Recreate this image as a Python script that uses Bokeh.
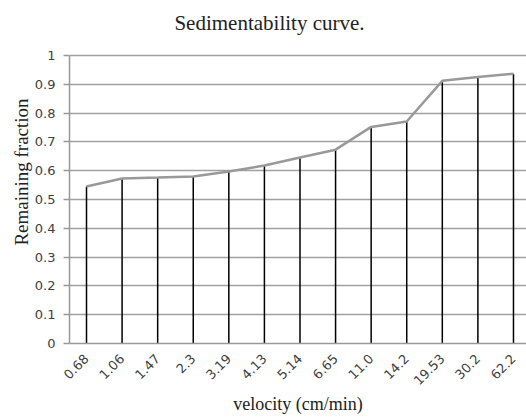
from bokeh.plotting import figure
from bokeh.models import Range1d, FixedTicker, Label
from bokeh.embed import file_html
from bokeh.resources import INLINE

# Data
title_text = "Sedimentability curve."
velocities = ["0.68", "1.06", "1.47", "2.3", "3.19", "4.13", "5.14", "6.65",
              "11.0", "14.2", "19.53", "30.2", "62.2"]
remaining = [0.545, 0.573, 0.576, 0.580, 0.597, 0.618, 0.646, 0.673,
             0.752, 0.771, 0.912, 0.925, 0.937]
y_ticks = [0, 0.1, 0.2, 0.3, 0.4, 0.5, 0.6, 0.7, 0.8, 0.9, 1]
y_tick_labels = ["0", "0.1", "0.2", "0.3", "0.4", "0.5", "0.6", "0.7", "0.8", "0.9", "1"]

xs = list(range(len(velocities)))

# plot area runs to the top of the canvas; the value 1 sits 55px below it,
# leaving room for the title inside the frame
p = figure(width=526, height=418, output_backend="svg", toolbar_location=None,
           x_range=Range1d(-0.478, 12.366), y_range=Range1d(0, 1.19097),
           min_border_left=69, min_border_right=0, min_border_top=0,
           min_border_bottom=75)
p.outline_line_color = None
p.background_fill_color = "white"
p.border_fill_color = "white"

p.add_layout(Label(x=200, y=321, x_units="screen", y_units="screen",
                   text=title_text, text_font="Liberation Serif",
                   text_font_size="21px", text_color="#222222",
                   text_align="center", text_baseline="middle"))

# drop lines
p.segment(x0=xs, y0=[0] * len(xs), x1=xs, y1=remaining, line_color="black", line_width=1.5)
# curve
p.line(xs, remaining, line_color="#999999", line_width=2.5)

# x axis
xa = p.xaxis[0]
xa.ticker = FixedTicker(ticks=xs)
xa.major_label_overrides = {i: v for i, v in zip(xs, velocities)}
xa.major_label_orientation = 0.785398
xa.major_tick_out = 0
xa.major_tick_in = 0
xa.minor_tick_out = 0
xa.minor_tick_in = 0
xa.axis_line_color = "#999999"
xa.axis_line_width = 1.5
xa.major_label_text_font = "DejaVu Sans"
xa.major_label_text_font_size = "13px"
xa.major_label_text_color = "#404040"
xa.major_label_standoff = 13
xa.axis_label = "velocity (cm/min)"
xa.axis_label_text_font = "Liberation Serif"
xa.axis_label_text_font_size = "18px"
xa.axis_label_text_font_style = "normal"
xa.axis_label_text_color = "#222222"
xa.axis_label_standoff = 2

# y axis
ya = p.yaxis[0]
ya.bounds = (0, 1)
ya.ticker = FixedTicker(ticks=y_ticks)
ya.major_label_overrides = {t: l for t, l in zip(y_ticks, y_tick_labels)}
ya.major_tick_out = 6
ya.major_tick_in = 0
ya.minor_tick_out = 0
ya.minor_tick_in = 0
ya.major_tick_line_color = "#999999"
ya.major_tick_line_width = 1.5
ya.axis_line_color = "#999999"
ya.axis_line_width = 1.5
ya.major_label_text_font = "DejaVu Sans"
ya.major_label_text_font_size = "13px"
ya.major_label_text_color = "#404040"
ya.major_label_standoff = 8
ya.axis_label = "Remaining fraction"
ya.axis_label_text_font = "Liberation Serif"
ya.axis_label_text_font_size = "19px"
ya.axis_label_text_font_style = "normal"
ya.axis_label_text_color = "#222222"
ya.axis_label_standoff = 0

p.xgrid.grid_line_color = None
p.ygrid.ticker = FixedTicker(ticks=y_ticks)
p.ygrid.grid_line_color = "#a0a0a0"
p.ygrid.grid_line_width = 1.5

open("out.html", "w").write(file_html(p, INLINE))
